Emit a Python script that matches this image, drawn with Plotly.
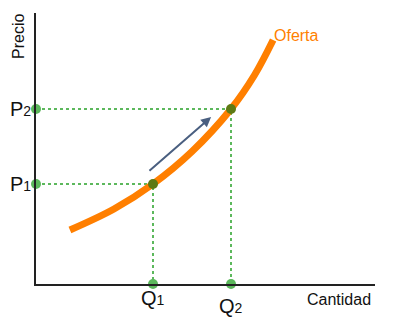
import plotly.graph_objects as go

# Supply curve (quantity, price)
curve_q = [0.87, 2.0, 3.0, 4.0, 5.0, 5.6, 6.08]
curve_p = [2.16, 3.0, 4.0, 5.3, 7.0, 8.35, 9.76]

# Equilibrium points
q_vals = [3.0, 5.0]
p_vals = [4.0, 7.0]
q_labels = ["Q<span style='font-size:14px'>1</span>", "Q<span style='font-size:14px'>2</span>"]
p_labels = ["P<span style='font-size:14px'>1</span>", "P<span style='font-size:14px'>2</span>"]

# Arrow (start, end)
arrow_start = (2.87, 4.48)
arrow_end = (4.49, 6.68)

GREEN = "#5cb85c"
OLIVE = "#5e7a14"
ORANGE = "#ff7f00"
FONT = "Liberation Sans, Arial, sans-serif"

fig = go.Figure()

# dotted guide lines
for q, p in zip(q_vals, p_vals):
    fig.add_trace(go.Scatter(x=[0, q, q], y=[p, p, 0], mode="lines",
                             line=dict(color=GREEN, width=2, dash="dot"),
                             hoverinfo="skip", cliponaxis=False))

# supply curve
fig.add_trace(go.Scatter(x=curve_q, y=curve_p, mode="lines",
                         line=dict(color=ORANGE, width=7, shape="spline", smoothing=1.0),
                         cliponaxis=False))

# axis markers
fig.add_trace(go.Scatter(x=[0] * len(p_vals) + q_vals, y=p_vals + [0] * len(q_vals),
                         mode="markers", marker=dict(color=GREEN, size=10),
                         cliponaxis=False))
# intersection markers
fig.add_trace(go.Scatter(x=q_vals, y=p_vals, mode="markers",
                         marker=dict(color=OLIVE, size=10), cliponaxis=False))

annotations = []
for q, lab, shift in zip(q_vals, q_labels, [-14, -22]):
    annotations.append(dict(x=q, y=0, xref="x", yref="y", text=lab, showarrow=False,
                            yshift=shift, font=dict(size=20, color="#111", family=FONT)))
for p, lab in zip(p_vals, p_labels):
    annotations.append(dict(x=0, y=p, xref="x", yref="y", text=lab, showarrow=False,
                            xanchor="right", xshift=-3, font=dict(size=20, color="#111", family=FONT)))

annotations.append(dict(x=arrow_end[0], y=arrow_end[1], ax=arrow_start[0], ay=arrow_start[1],
                        xref="x", yref="y", axref="x", ayref="y", text="", showarrow=True,
                        arrowhead=2, arrowsize=1, arrowwidth=2, arrowcolor="#4a5f80"))
annotations.append(dict(x=curve_q[-1], y=curve_p[-1], xref="x", yref="y", text="Oferta",
                        showarrow=False, xanchor="left", yanchor="bottom", xshift=-1, yshift=-6,
                        font=dict(size=16, color=ORANGE, family=FONT)))
annotations.append(dict(x=339, y=299, xref="paper", yref="paper", text="Cantidad",
                        xanchor="center", yanchor="middle",
                        showarrow=False, font=dict(size=16, color="#111", family=FONT)))
annotations.append(dict(x=18, y=37, xref="paper", yref="paper", text="Precio", textangle=-90,
                        xanchor="center", yanchor="middle",
                        showarrow=False, font=dict(size=16, color="#111", family=FONT)))

# Convert paper-pixel annotations
W, H = 400, 321
L, R, T, B = 36, 25, 13, 37
for a in annotations[-2:]:
    a["x"] = (a["x"] - L) / (W - L - R)
    a["y"] = (H - B - a["y"]) / (H - T - B)

fig.update_layout(
    width=W, height=H, margin=dict(l=L, r=R, t=T, b=B),
    plot_bgcolor="white", paper_bgcolor="white", showlegend=False,
    annotations=annotations,
    xaxis=dict(range=[0, (W - L - R) / 39], showline=True, linecolor="#222", linewidth=1.5,
               showgrid=False, zeroline=False, showticklabels=False, ticks=""),
    yaxis=dict(range=[0, (H - T - B) / 25], showline=True, linecolor="#222", linewidth=1.5,
               showgrid=False, zeroline=False, showticklabels=False, ticks=""),
)

fig.write_html("out.html")
